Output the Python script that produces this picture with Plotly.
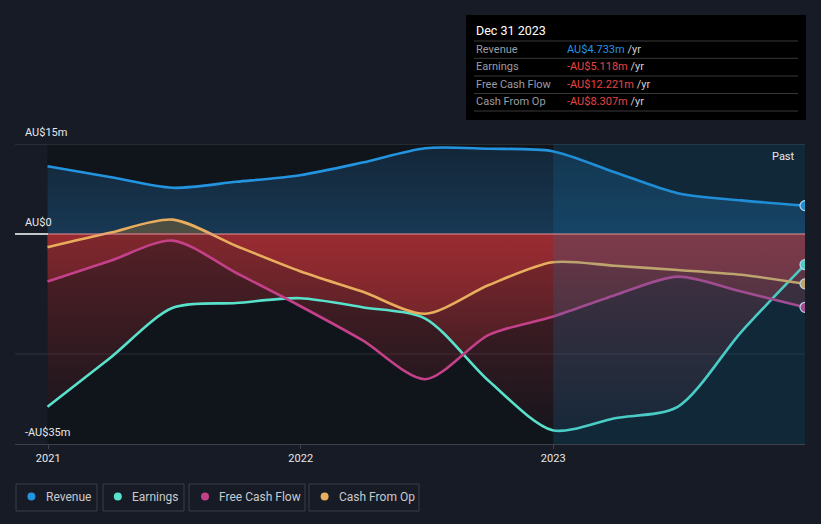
import plotly.graph_objects as go

# ---------------- data ----------------
dates = ["2020-12-31", "2021-03-31", "2021-06-30", "2021-09-30", "2021-12-31",
         "2022-03-31", "2022-06-30", "2022-09-30", "2022-12-31",
         "2023-03-31", "2023-06-30", "2023-09-30", "2023-12-31"]
revenue = [11.3, 9.5, 7.7, 8.7, 9.8, 11.9, 14.3, 14.2, 13.8, 10.3, 6.8, 5.6, 4.733]
earnings = [-28.8, -20.7, -12.3, -11.5, -10.7, -12.2, -14.1, -24.5, -32.7, -30.7, -28.8, -16.3, -5.118]
fcf = [-7.9, -4.5, -1.1, -6.5, -12.0, -17.7, -24.2, -16.8, -13.8, -10.2, -7.1, -9.6, -12.221]
cfo = [-2.2, 0.2, 2.4, -2.0, -6.2, -9.6, -13.3, -8.5, -4.7, -5.3, -6.0, -6.8, -8.307]

series_names = ["Revenue", "Earnings", "Free Cash Flow", "Cash From Op"]
series_colors = ["#2394e0", "#58e2cc", "#c4418a", "#e8ae5e"]
tooltip_title = "Dec 31 2023"
tooltip_values = ["AU$4.733m", "-AU$5.118m", "-AU$12.221m", "-AU$8.307m"]
tooltip_value_colors = ["#2394e0", "#e64545", "#e64545", "#e64545"]
y_labels = [(15, "AU$15m"), (0, "AU$0"), (-35, "-AU$35m")]
x_ticks = ["2021-01-01", "2022-01-01", "2023-01-01"]
x_ticktext = ["2021", "2022", "2023"]

# ---------------- geometry helpers ----------------
W, H = 821, 524
L, R, T, B = 15, 16, 144, 80
PW, PH = W - L - R, H - T - B


def px(x):
    return (x - L) / PW


def py(y):
    return (H - B - y) / PH


PAPER = "#161b25"
PLOTBG = "#10141b"
FONT = "Roboto"

fig = go.Figure()

RED_LO = "rgba(190,50,55,0.02)"
RED_HI = "rgba(190,50,55,0.40)"

# revenue fill
fig.add_trace(go.Scatter(
    x=dates, y=revenue, mode="lines", line=dict(width=0, shape="spline", smoothing=0.8),
    fill="tozeroy",
    fillgradient=dict(type="vertical", start=0, stop=15,
                      colorscale=[[0, "rgba(34,110,169,0.40)"], [1, "rgba(34,110,169,0.20)"]]),
    hoverinfo="skip", showlegend=False))

# negative fills
for vals in (earnings, fcf):
    fig.add_trace(go.Scatter(
        x=dates, y=vals, mode="lines", line=dict(width=0, shape="spline", smoothing=0.8),
        fill="tozeroy",
        fillgradient=dict(type="vertical", start=-35, stop=0,
                          colorscale=[[0, RED_LO], [1, RED_HI]]),
        hoverinfo="skip", showlegend=False))

fig.add_trace(go.Scatter(
    x=dates, y=cfo, mode="lines", line=dict(width=0, shape="spline", smoothing=0.8),
    fill="tozeroy",
    fillgradient=dict(type="vertical", start=-35, stop=3,
                      colorscale=[[0, RED_LO], [35 / 38, RED_HI],
                                  [35.3 / 38, "rgba(185,125,35,0.33)"], [1, "rgba(185,125,35,0.33)"]]),
    hoverinfo="skip", showlegend=False))

# lines
for name, vals, col in zip(series_names, [revenue, earnings, fcf, cfo], series_colors):
    fig.add_trace(go.Scatter(
        x=dates, y=vals, mode="lines", name=name,
        line=dict(color=col, width=2.6, shape="spline", smoothing=0.8),
        hoverinfo="skip", showlegend=False))

# end markers
for vals, col in zip([revenue, earnings, fcf, cfo], series_colors):
    fig.add_trace(go.Scatter(
        x=[dates[-1]], y=[vals[-1]], mode="markers",
        marker=dict(size=10, color=col, line=dict(color="#e8eef5", width=1.2)),
        hoverinfo="skip", showlegend=False))

shapes = []
# dark plot background over data range
shapes.append(dict(type="rect", xref="x", yref="paper", x0=dates[0], x1=dates[-1], y0=0, y1=1,
                   fillcolor=PLOTBG, line=dict(width=0), layer="below"))
# gridlines
shapes.append(dict(type="line", xref="paper", yref="y", x0=0, x1=1, y0=15, y1=15,
                   line=dict(color="#3d424b", width=1), layer="below"))
shapes.append(dict(type="line", xref="paper", yref="y", x0=0, x1=1, y0=-20, y1=-20,
                   line=dict(color="rgba(255,255,255,0.10)", width=1), layer="below"))
# past overlay
shapes.append(dict(type="rect", xref="x", yref="paper", x0="2023-01-01", x1=dates[-1], y0=0, y1=1,
                   fillcolor="rgba(20,120,175,0.20)", line=dict(width=0), layer="above"))
# zero line
shapes.append(dict(type="line", xref="paper", yref="y", x0=0, x1=px(48), y0=0, y1=0,
                   line=dict(color="#ffffff", width=1.3), layer="above"))
shapes.append(dict(type="line", xref="x", yref="y", x0=dates[0], x1=dates[-1], y0=0, y1=0,
                   line=dict(color="#e69494", width=1.2), layer="above"))

# tooltip box
shapes.append(dict(type="rect", xref="paper", yref="paper", x0=px(466), x1=px(806), y0=py(120), y1=py(15),
                   fillcolor="#000000", line=dict(width=0), layer="above"))
for yy in [41, 58.3, 76, 93.5, 111]:
    shapes.append(dict(type="line", xref="paper", yref="paper", x0=px(474), x1=px(798), y0=py(yy), y1=py(yy),
                       line=dict(color="rgba(255,255,255,0.22)", width=1), layer="above"))

annotations = []
annotations.append(dict(xref="paper", yref="paper", x=px(474), y=py(31), text=tooltip_title,
                        showarrow=False, xanchor="left", yanchor="middle",
                        font=dict(family=FONT, size=12.5, color="#ffffff")))
row_y = [49.5, 66.5, 84.2, 101.6]
for name, val, vcol, yy in zip(series_names, tooltip_values, tooltip_value_colors, row_y):
    annotations.append(dict(xref="paper", yref="paper", x=px(474), y=py(yy), text=name,
                            showarrow=False, xanchor="left", yanchor="middle",
                            font=dict(family=FONT, size=11, color="#9a9da3")))
    annotations.append(dict(xref="paper", yref="paper", x=px(565), y=py(yy),
                            text="<span style='color:%s'>%s</span> /yr" % (vcol, val),
                            showarrow=False, xanchor="left", yanchor="middle",
                            font=dict(family=FONT, size=11, color="#d0d2d6")))

# y labels
for v, t in y_labels:
    annotations.append(dict(xref="paper", yref="y", x=px(23), y=v, yshift=3, text=t,
                            showarrow=False, xanchor="left", yanchor="bottom",
                            font=dict(family=FONT, size=11, color="#e8e8e8")))

# Past label
annotations.append(dict(xref="paper", yref="paper", x=px(797), y=py(156), text="Past",
                        showarrow=False, xanchor="right", yanchor="middle",
                        font=dict(family=FONT, size=11, color="#e8e8e8")))

# legend boxes
boxes = [(16, 97), (103, 184), (189, 305), (309, 419)]
dots_x = [31.4, 117.8, 205, 324.6]
text_x = [44, 129.8, 216.8, 337.2]
for (bx0, bx1), dx, tx, name, col in zip(boxes, dots_x, text_x, series_names, series_colors):
    shapes.append(dict(type="rect", xref="paper", yref="paper", x0=px(bx0), x1=px(bx1), y0=py(511), y1=py(484),
                       fillcolor="rgba(0,0,0,0)", line=dict(color="#3a3f48", width=1), layer="above"))
    shapes.append(dict(type="circle", xref="paper", yref="paper", x0=px(dx - 4), x1=px(dx + 4),
                       y0=py(500.5), y1=py(492.5), fillcolor=col, line=dict(width=0), layer="above"))
    annotations.append(dict(xref="paper", yref="paper", x=px(tx), y=py(496.5), text=name,
                            showarrow=False, xanchor="left", yanchor="middle",
                            font=dict(family=FONT, size=12, color="#c8cacd")))

fig.update_layout(
    width=W, height=H,
    margin=dict(l=L, r=R, t=T, b=B, pad=0),
    paper_bgcolor=PAPER, plot_bgcolor=PAPER,
    showlegend=False,
    shapes=shapes, annotations=annotations,
    xaxis=dict(type="date", range=["2020-11-14", "2023-12-31"], tickvals=x_ticks, ticktext=x_ticktext,
               showgrid=False, zeroline=False, showline=True, linecolor="#3d424b", linewidth=1,
               ticks="outside", ticklen=4, tickcolor="#3d424b",
               tickfont=dict(family=FONT, size=11, color="#e8e8e8")),
    yaxis=dict(range=[-35, 15], showgrid=False, zeroline=False, showticklabels=False, fixedrange=True),
    font=dict(family=FONT),
)

fig.write_html("out.html")
